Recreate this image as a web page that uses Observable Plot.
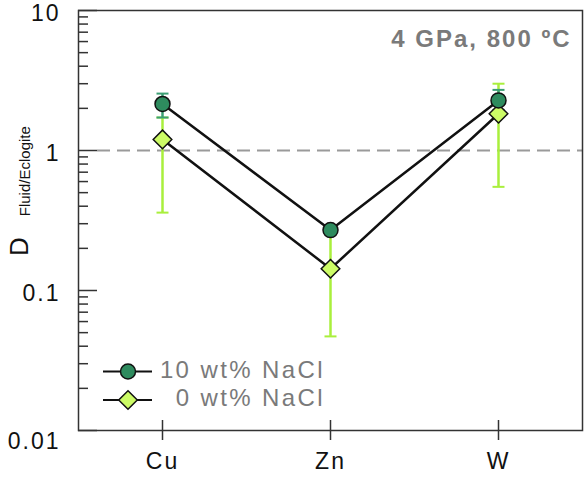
<!DOCTYPE html>
<html>
<head>
<meta charset="utf-8">
<script src="https://cdn.jsdelivr.net/npm/d3@7"></script>
<script src="https://cdn.jsdelivr.net/npm/@observablehq/plot@0.6"></script>
<style>
  body { margin: 0; background: #fff; font-family: "Liberation Sans", Arial, sans-serif; }
  #chart { position: relative; width: 584px; height: 477px; }
  #chart svg text { letter-spacing: 2px; }
  #chart svg text.ylab { letter-spacing: 0; }
  #chart svg .legend text { letter-spacing: 2.4px; }
</style>
</head>
<body>
<div id="chart"></div>
<script>
// Fluid/eclogite partition coefficients at 4 GPa, 800 °C
const elements = ["Cu", "Zn", "W"];
const seriesNames = ["10 wt% NaCl", "0 wt% NaCl"];

// 10 wt% NaCl fluid
const brineD = [2.15, 0.27, 2.28];
const brineLow = [1.72, null, 1.95];
const brineHigh = [2.55, null, 2.71];

// 0 wt% NaCl fluid
const pureD = [1.2, 0.143, 1.83];
const pureLow = [0.36, 0.047, 0.55];
const pureHigh = [1.72, 0.27, 3.0];

const yMajorTicks = [0.01, 0.1, 1, 10];
const titleText = "4 GPa, 800 ºC";

const colors = {
  brineFill: "#2e8b5e",
  brineErr: "#3c9f74",
  pureFill: "#ccfb66",
  pureErr: "#a9ef3c",
  line: "#111",
  frame: "#333",
  ref: "#9a9a9a",
  grayText: "#7a7a7a"
};

const width = 584, height = 477;
const margin = {top: 10, right: 2, bottom: 47, left: 78};
const innerW = width - margin.left - margin.right;
const innerH = height - margin.top - margin.bottom;

const rows = (name, vals, lo, hi) =>
  elements.map((el, i) => ({el, series: name, v: vals[i], lo: lo[i], hi: hi[i]}));
const brine = rows(seriesNames[0], brineD, brineLow, brineHigh);
const pure = rows(seriesNames[1], pureD, pureLow, pureHigh);
const brineErr = brine.filter(d => d.lo != null);
const pureErr = pure.filter(d => d.lo != null);

// minor log ticks (2–9 in each decade)
const minorTicks = d3.scaleLog().domain([0.01, 10]).ticks()
  .filter(t => !yMajorTicks.some(m => Math.abs(m - t) / m < 1e-9));

// custom symbols: horizontal error-bar cap and square diamond
const capSymbol = {draw(ctx) { ctx.moveTo(-6, 0); ctx.lineTo(6, 0); }};
const diamondSymbol = {draw(ctx) {
  const r = 9.3;
  ctx.moveTo(0, -r); ctx.lineTo(r, 0); ctx.lineTo(0, r); ctx.lineTo(-r, 0); ctx.closePath();
}};

const fmt = d => String(d);

const chart = Plot.plot({
  width, height,
  marginTop: margin.top, marginRight: margin.right,
  marginBottom: margin.bottom, marginLeft: margin.left,
  style: {fontFamily: "'Liberation Sans', Arial, sans-serif", background: "#fff", color: "#111"},
  x: {type: "point", domain: elements, padding: 0.5},
  y: {type: "log", domain: [0.01, 10]},
  marks: [
    // reference line at D = 1
    Plot.ruleY([1], {stroke: colors.ref, strokeWidth: 2, strokeDasharray: "13,7", insetLeft: 19}),
    // inward ticks on the left axis
    Plot.ruleY(minorTicks, {stroke: colors.frame, strokeWidth: 1.5, insetRight: innerW - 10}),
    Plot.ruleY(yMajorTicks, {stroke: colors.frame, strokeWidth: 1.5, insetRight: innerW - 19}),
    // category ticks crossing the bottom axis
    Plot.ruleX(elements, {stroke: colors.frame, strokeWidth: 1.5, insetTop: innerH - 10, insetBottom: -10}),
    // error bars
    Plot.ruleX(pureErr, {x: "el", y1: "lo", y2: "hi", stroke: colors.pureErr, strokeWidth: 2.5}),
    Plot.dot(pureErr, {x: "el", y: "lo", symbol: capSymbol, stroke: colors.pureErr, strokeWidth: 2, fill: "none"}),
    Plot.dot(pureErr, {x: "el", y: "hi", symbol: capSymbol, stroke: colors.pureErr, strokeWidth: 2, fill: "none"}),
    Plot.ruleX(brineErr, {x: "el", y1: "lo", y2: "hi", stroke: colors.brineErr, strokeWidth: 2.5}),
    Plot.dot(brineErr, {x: "el", y: "lo", symbol: capSymbol, stroke: colors.brineErr, strokeWidth: 2, fill: "none"}),
    Plot.dot(brineErr, {x: "el", y: "hi", symbol: capSymbol, stroke: colors.brineErr, strokeWidth: 2, fill: "none"}),
    // connecting lines
    Plot.line(pure, {x: "el", y: "v", stroke: colors.line, strokeWidth: 2.5}),
    Plot.line(brine, {x: "el", y: "v", stroke: colors.line, strokeWidth: 2.5}),
    // markers
    Plot.dot(pure, {x: "el", y: "v", symbol: diamondSymbol, fill: colors.pureFill, stroke: "#111", strokeWidth: 1.5}),
    Plot.dot(brine, {x: "el", y: "v", r: 7.5, fill: colors.brineFill, stroke: "#111", strokeWidth: 1.5}),
    Plot.frame({stroke: colors.frame, strokeWidth: 1.5}),
    // axes
    Plot.axisY([0.1, 1, 10], {tickSize: 0, tickPadding: 18, tickFormat: fmt, fontSize: 23, dy: 3, fill: "#111"}),
    Plot.axisY([0.01], {tickSize: 0, tickPadding: 18, tickFormat: fmt, fontSize: 23, dy: 11, fill: "#111", label: null}),
    Plot.axisX({tickSize: 0, tickPadding: 22, fontSize: 23, fill: "#111", label: null}),
    // condition label
    Plot.text([titleText], {frameAnchor: "top-right", dx: -11, dy: 19, lineAnchor: "top", fontSize: 24, fontWeight: "bold", fill: colors.grayText})
  ]
});

document.getElementById("chart").appendChild(chart);

const svg = d3.select(chart);
// remove default axis label of the y axis
svg.selectAll('g[aria-label="y-axis label"]').remove();

// y-axis label D with Fluid/Eclogite qualifier
const ylab = svg.append("text")
  .attr("class", "ylab")
  .attr("text-anchor", "start")
  .attr("transform", "translate(28,256) rotate(-90)")
  .attr("fill", "#111")
  .style("font-family", "'Liberation Sans', Arial, sans-serif");
ylab.append("tspan").attr("font-size", 26).text("D");
ylab.append("tspan").attr("font-size", 15).attr("dx", 21).attr("dy", 2).text("Fluid/Eclogite");

// legend
const legend = svg.append("g").attr("class", "legend");
const legendRows = [
  {name: seriesNames[0], y: 371.5, kind: "circle"},
  {name: seriesNames[1], y: 400, kind: "diamond"}
];
const diamondPath = (() => { const p = d3.path(); diamondSymbol.draw(p); return p.toString(); })();
legendRows.forEach(r => {
  const g = legend.append("g").attr("transform", `translate(0,${r.y})`);
  g.append("line").attr("x1", 103).attr("x2", 152).attr("stroke", colors.line).attr("stroke-width", 2);
  if (r.kind === "circle") {
    g.append("circle").attr("cx", 128).attr("r", 7.5)
      .attr("fill", colors.brineFill).attr("stroke", "#111").attr("stroke-width", 1.5);
  } else {
    g.append("path").attr("transform", "translate(128,0)").attr("d", diamondPath)
      .attr("fill", colors.pureFill).attr("stroke", "#111").attr("stroke-width", 1.5);
  }
  g.append("text").attr("x", 325).attr("y", 6).attr("text-anchor", "end")
    .attr("font-size", 24).attr("fill", colors.grayText).text(r.name);
});
</script>
</body>
</html>
